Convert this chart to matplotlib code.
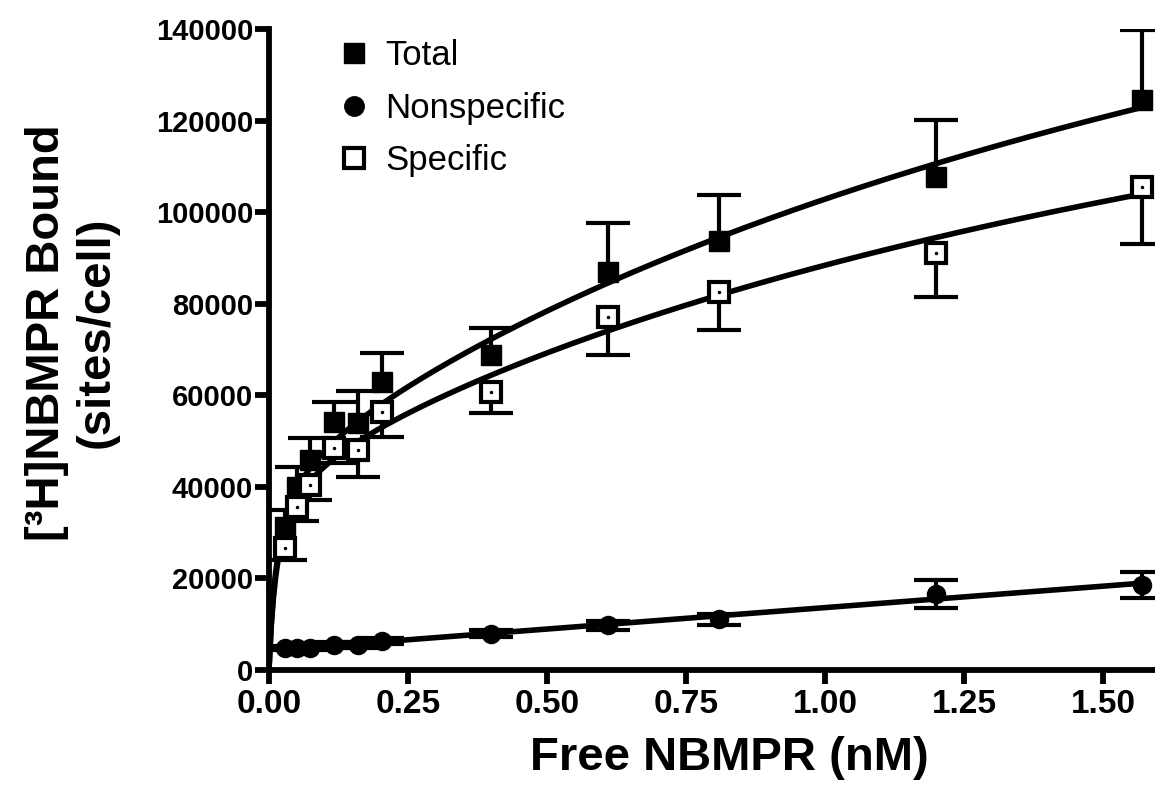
import numpy as np
import matplotlib
matplotlib.use('Agg')
import matplotlib.pyplot as plt
from matplotlib.lines import Line2D

# ---- data ----
free_nM = [0.028, 0.05, 0.073, 0.117, 0.16, 0.203, 0.40, 0.61, 0.81, 1.20, 1.57]
total = [31200, 40000, 45900, 54200, 54000, 62900, 68800, 86900, 93700, 107700, 124500]
total_err = [3700, 4300, 4800, 4300, 7000, 6300, 5900, 10700, 10000, 12400, 15300]
specific = [26600, 35600, 40400, 48500, 48000, 56300, 60700, 77100, 82500, 91100, 105500]
specific_err = [2600, 3000, 3300, 3300, 5900, 5400, 4600, 8300, 8300, 9600, 12500]
nonspecific = [4800, 4800, 4900, 5500, 5500, 6300, 7900, 9800, 11100, 16600, 18600]
nonspecific_err = [500, 500, 500, 600, 600, 700, 800, 1000, 1200, 3000, 2800]

# two-site fit parameters (Bmax1, Kd1, Bmax2, Kd2) estimated from the drawn curves
total_fit = (46000, 0.015, 195000, 2.39)
specific_fit = (44000, 0.015, 149600, 2.32)

x_ticks = [0.00, 0.25, 0.50, 0.75, 1.00, 1.25, 1.50]
y_ticks = [0, 20000, 40000, 60000, 80000, 100000, 120000, 140000]
legend_labels = ['Total', 'Nonspecific', 'Specific']


def two_site(x, p):
    b1, k1, b2, k2 = p
    return b1 * x / (k1 + x) + b2 * x / (k2 + x)


plt.rcParams['font.family'] = ['Liberation Sans', 'DejaVu Sans']

fig = plt.figure(figsize=(11.55, 7.89), dpi=100)
ax = fig.add_axes([269 / 1155, (789 - 670) / 789, (1155 - 269) / 1155, (670 - 29) / 789])

x = np.array(free_nM)
lw = 4.0
xs = np.linspace(0, x.max(), 400)
ax.plot(xs, two_site(xs, total_fit), color='black', lw=lw, zorder=2)
ax.plot(xs, two_site(xs, specific_fit), color='black', lw=lw, zorder=2)
coef = np.polyfit(x, nonspecific, 1)
xn = np.linspace(x.min(), x.max(), 50)
ax.plot(xn, np.polyval(coef, xn), color='black', lw=lw, zorder=2)

ekw = dict(ecolor='black', elinewidth=3, capsize=16, capthick=3, zorder=3, ls='none')
zeros = np.zeros(len(x))


def hide_marker_side_caps(container, yvals):
    for cap in container[1]:
        yd = np.asarray(cap.get_ydata(), dtype=float)
        if np.allclose(yd, np.asarray(yvals, dtype=float)):
            cap.set_visible(False)


c_tot = ax.errorbar(x, total, yerr=[zeros, total_err], fmt='s', mfc='black', mec='black',
                    ms=14, **ekw)
hide_marker_side_caps(c_tot, total)
c_spec = ax.errorbar(x, specific, yerr=[specific_err, zeros], fmt='s', mfc='white', mec='black',
                     mew=3, ms=14, **ekw)
hide_marker_side_caps(c_spec, specific)
ax.plot(x, specific, '.', color='black', ms=3, zorder=5)
ax.errorbar(x, nonspecific, yerr=nonspecific_err, fmt='o', mfc='black', mec='black',
            ms=13, **ekw)

ax.set_xlim(0, (1155 - 269) / 556)
ax.set_ylim(0, 140000)
ax.set_xticks(x_ticks)
ax.set_xticklabels([f'{t:.2f}' for t in x_ticks], fontsize=24, fontweight='bold')
ax.set_yticks(y_ticks)
ax.set_yticklabels([str(t) for t in y_ticks], fontsize=21, fontweight='bold')
for s in ['top', 'right']:
    ax.spines[s].set_visible(False)
for s in ['left', 'bottom']:
    ax.spines[s].set_linewidth(4.2)
ax.tick_params(axis='both', direction='out', length=10, width=4.2, color='black')
ax.tick_params(axis='x', pad=4)
ax.tick_params(axis='y', pad=1.5)
ax.spines['left'].set_bounds(0, 140000)

ax.set_xlabel('Free NBMPR (nM)', fontsize=34, fontweight='bold')
ax.xaxis.set_label_coords(0.52, -0.103)
ax.set_ylabel('[³H]NBMPR Bound\n(sites/cell)', fontsize=34, fontweight='bold',
              linespacing=1.15)
ax.yaxis.set_label_coords(-0.170, 0.527)

handles = [
    Line2D([], [], marker='s', ls='none', mfc='black', mec='black', ms=14),
    Line2D([], [], marker='o', ls='none', mfc='black', mec='black', ms=14),
    Line2D([], [], marker='s', ls='none', mfc='white', mec='black', mew=3, ms=14),
]
ax.legend(handles, legend_labels, loc='upper left', bbox_to_anchor=(316 / 1155, 1 - 22 / 789),
          bbox_transform=fig.transFigure, frameon=False, fontsize=25, handletextpad=0.3,
          labelspacing=0.56, handlelength=1.2, borderpad=0)

fig.savefig('out.png', dpi=100)
